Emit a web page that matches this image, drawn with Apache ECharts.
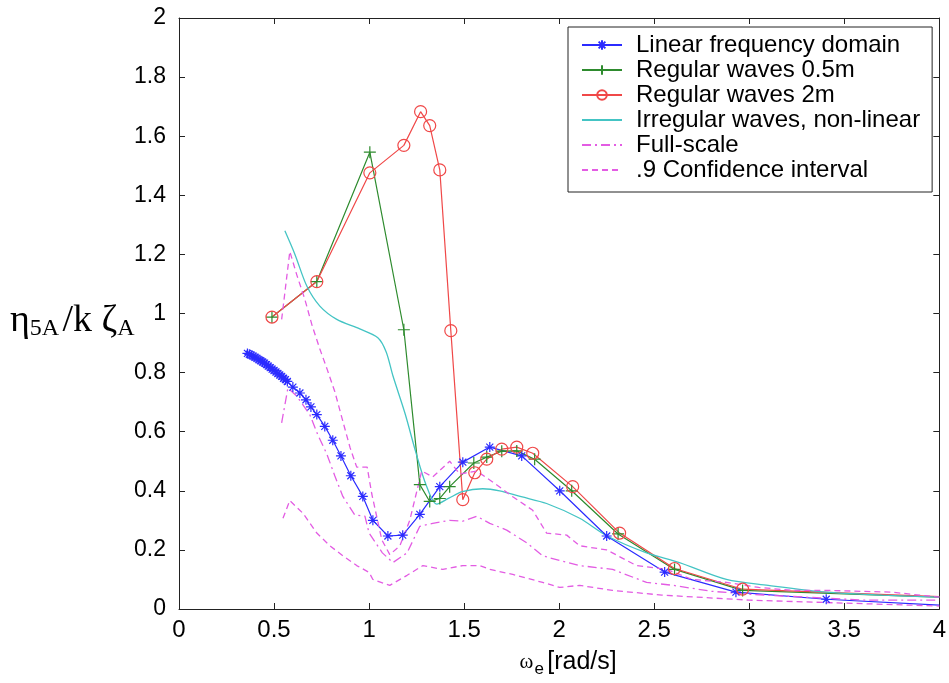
<!DOCTYPE html>
<html>
<head>
<meta charset="utf-8">
<script src="https://cdn.jsdelivr.net/npm/echarts@6/dist/echarts.min.js"></script>
<style>html,body{margin:0;padding:0;background:#fff}#c{width:949px;height:683px}</style>
</head>
<body>
<div id="c"></div>
<script>
// ---- data ----
const linearX = [0.36,0.37,0.38,0.39,0.40,0.41,0.42,0.43,0.44,0.45,0.46,0.47,0.48,0.49,0.50,0.51,0.52,0.53,0.54,0.55,0.56,0.57,
  0.599,0.636,0.668,0.694,0.725,0.767,0.809,0.852,0.904,0.967,1.02,1.099,1.177,1.267,1.372,1.493,1.635,1.803,2.003,2.25,2.555,2.93,3.405,4.0];
const linearY = [0.865,0.862,0.859,0.856,0.852,0.848,0.844,0.840,0.836,0.832,0.827,0.822,0.817,0.812,0.807,0.802,0.797,0.792,0.787,0.781,0.776,0.770,
  0.751,0.731,0.708,0.684,0.658,0.618,0.571,0.518,0.451,0.381,0.300,0.247,0.250,0.320,0.414,0.497,0.548,0.518,0.400,0.247,0.125,0.057,0.033,0.013];

const reg05X = [0.489,0.725,1.004,1.183,1.267,1.319,1.372,1.424,1.551,1.619,1.698,1.777,1.871,2.066,2.31,2.607,2.965,4.0];
const reg05Y = [0.988,1.108,1.546,0.945,0.421,0.364,0.374,0.414,0.494,0.514,0.534,0.535,0.507,0.400,0.254,0.134,0.063,0.040];

const reg2X = [0.489,0.725,1.004,1.183,1.271,1.319,1.372,1.43,1.493,1.556,1.619,1.698,1.777,1.861,2.071,2.318,2.607,2.965,4.0];
const reg2Y = [0.988,1.108,1.476,1.569,1.683,1.636,1.486,0.942,0.370,0.461,0.507,0.541,0.548,0.527,0.414,0.257,0.137,0.067,0.042];

const irrX = [0.557,0.61,0.673,0.741,0.83,0.951,1.046,1.09,1.125,1.19,1.246,1.30,1.356,1.42,1.49,1.598,1.687,1.80,1.934,2.108,2.25,2.46,2.633,2.88,3.1,3.405,3.7,4.0];
const irrY = [1.28,1.20,1.092,1.025,0.98,0.948,0.918,0.87,0.79,0.66,0.53,0.42,0.355,0.375,0.397,0.407,0.40,0.38,0.357,0.307,0.248,0.19,0.157,0.10,0.08,0.057,0.047,0.04];

const fullX = [0.54,0.573,0.62,0.688,0.73,0.778,0.82,0.862,0.925,0.978,1.0,1.07,1.125,1.2,1.267,1.335,1.424,1.493,1.566,1.635,1.724,1.829,1.913,2.003,2.108,2.281,2.46,2.6,2.8,3.0,3.3,3.6,4.0];
const fullY = [0.63,0.748,0.72,0.658,0.59,0.524,0.45,0.381,0.318,0.314,0.257,0.19,0.157,0.19,0.28,0.29,0.30,0.297,0.314,0.29,0.267,0.224,0.18,0.164,0.147,0.134,0.09,0.08,0.06,0.05,0.04,0.03,0.03];

const ciUpX = [0.54,0.583,0.62,0.662,0.70,0.741,0.78,0.82,0.86,0.9,0.935,0.99,1.014,1.067,1.109,1.162,1.214,1.277,1.335,1.424,1.477,1.566,1.65,1.756,1.861,1.934,2.04,2.108,2.25,2.407,2.565,2.70,2.88,3.05,3.23,3.41,3.75,4.0];
const ciUpY = [0.98,1.21,1.13,1.048,0.96,0.88,0.81,0.735,0.64,0.546,0.48,0.48,0.39,0.234,0.184,0.214,0.30,0.467,0.447,0.50,0.457,0.467,0.43,0.38,0.334,0.257,0.25,0.214,0.20,0.147,0.134,0.10,0.09,0.073,0.063,0.063,0.057,0.04];

const ciLoX = [0.547,0.583,0.652,0.725,0.794,0.862,0.935,1.0,1.02,1.109,1.2,1.283,1.388,1.493,1.582,1.635,1.756,1.913,2.003,2.108,2.28,2.54,3.0,3.5,4.0];
const ciLoY = [0.307,0.367,0.324,0.257,0.214,0.18,0.147,0.124,0.10,0.08,0.114,0.147,0.134,0.147,0.147,0.134,0.117,0.09,0.073,0.08,0.063,0.047,0.03,0.02,0.01];

const xTicks = {min: 0, max: 4, step: 0.5};
const yTicks = {min: 0, max: 2, step: 0.2};

// ---- build ----
function pts(xs, ys, hideLast) {
  return xs.map((x, i) => {
    const d = {value: [x, ys[i]]};
    if (hideLast && i === xs.length - 1) d.symbol = 'none';
    return d;
  });
}
const STAR = 'path://M0,-10L0,10M-10,0L10,0M-7,-7L7,7M-7,7L7,-7';
const PLUS = 'path://M0,-10L0,10M-10,0L10,0';
const CLEAR = 'rgba(0,0,0,0)';
const BLUE = '#2b2bff', GREEN = '#2e8b2e', RED = '#f04848', CYAN = '#44c4c4', MAG = '#e35ce3';

const chart = echarts.init(document.getElementById('c'));
const axisCommon = {
  axisLine: {show: true, onZero: false, lineStyle: {color: '#222', width: 1}},
  axisTick: {show: true, inside: true, length: 6, lineStyle: {color: '#222'}},
  splitLine: {show: false}
};
chart.setOption({
  animation: false,
  backgroundColor: '#fff',
  grid: {left: 179, right: 9, top: 18, bottom: 66},
  xAxis: [
    Object.assign({type: 'value', min: xTicks.min, max: xTicks.max, interval: xTicks.step, position: 'bottom',
      axisLabel: {color: '#000', fontSize: 24, fontFamily: 'Liberation Sans', margin: 9},
      name: '{w|ω}{s|e} {t|[rad/s]}', nameLocation: 'middle', nameGap: 38,
      nameTextStyle: {padding: [0, 0, 0, 18], rich: {
        w: {fontFamily: 'Liberation Serif', fontSize: 21, color: '#000'},
        s: {fontFamily: 'Liberation Sans', fontSize: 17, color: '#000', padding: [14, 0, 0, 1]},
        t: {fontFamily: 'Liberation Sans', fontSize: 25, color: '#000'}
      }}
    }, axisCommon),
    Object.assign({type: 'value', min: xTicks.min, max: xTicks.max, interval: xTicks.step, position: 'top',
      axisLabel: {show: false}}, axisCommon)
  ],
  yAxis: [
    Object.assign({type: 'value', min: yTicks.min, max: yTicks.max, interval: yTicks.step, position: 'left',
      axisLabel: {color: '#000', fontSize: 23, fontFamily: 'Liberation Sans', margin: 13}}, axisCommon),
    Object.assign({type: 'value', min: yTicks.min, max: yTicks.max, interval: yTicks.step, position: 'right',
      axisLabel: {show: false}}, axisCommon)
  ],
  legend: {
    orient: 'vertical', left: 568, top: 27, selectedMode: false,
    backgroundColor: '#fff', borderColor: '#222', borderWidth: 1, borderRadius: 0,
    padding: [6, 12, 10, 13], itemWidth: 40, itemHeight: 12, itemGap: 1,
    textStyle: {fontFamily: 'Liberation Sans', fontSize: 24, color: '#000', padding: [0, 0, 0, 9]},
    data: ['Linear frequency domain', 'Regular waves 0.5m', 'Regular waves 2m', 'Irregular waves, non-linear', 'Full-scale', '.9 Confidence interval']
  },
  graphic: [{
    type: 'text', left: 10, top: 302,
    style: {
      text: '{g|η}{s|5A} {g|/k ζ}{s|A}',
      rich: {
        g: {fontFamily: 'Liberation Serif', fontSize: 38, fill: '#000'},
        s: {fontFamily: 'Liberation Serif', fontSize: 24, fill: '#000', padding: [16, 0, 0, 0]}
      }
    }
  }],
  series: [
    {name: 'Linear frequency domain', type: 'line', data: pts(linearX, linearY, true),
      symbol: STAR, symbolSize: 10, lineStyle: {color: BLUE, width: 1.2},
      itemStyle: {color: 'none', borderColor: BLUE, borderWidth: 1.2}},
    {name: 'Regular waves 0.5m', type: 'line', data: pts(reg05X, reg05Y, true),
      symbol: PLUS, symbolSize: 12, lineStyle: {color: GREEN, width: 1.2},
      itemStyle: {color: 'none', borderColor: GREEN, borderWidth: 1.2}},
    {name: 'Regular waves 2m', type: 'line', data: pts(reg2X, reg2Y, true),
      symbol: 'circle', symbolSize: 12, lineStyle: {color: RED, width: 1.2},
      itemStyle: {color: CLEAR, borderColor: RED, borderWidth: 1.2}},
    {name: 'Irregular waves, non-linear', type: 'line', data: pts(irrX, irrY, false),
      symbol: 'none', smooth: 0.3, lineStyle: {color: CYAN, width: 1.3},
      itemStyle: {color: CLEAR, borderColor: CLEAR, borderWidth: 0}},
    {name: 'Full-scale', type: 'line', data: pts(fullX, fullY, false),
      symbol: 'none', lineStyle: {color: MAG, width: 1.3, type: [9, 4, 2, 4]},
      itemStyle: {color: CLEAR, borderColor: CLEAR, borderWidth: 0}},
    {name: '.9 Confidence interval', type: 'line', data: pts(ciUpX, ciUpY, false),
      symbol: 'none', lineStyle: {color: MAG, width: 1.3, type: [6, 4]},
      itemStyle: {color: CLEAR, borderColor: CLEAR, borderWidth: 0}},
    {name: '.9 Confidence interval', type: 'line', data: pts(ciLoX, ciLoY, false),
      symbol: 'none', lineStyle: {color: MAG, width: 1.3, type: [6, 4]},
      itemStyle: {color: CLEAR, borderColor: CLEAR, borderWidth: 0}}
  ]
});
</script>
</body>
</html>
